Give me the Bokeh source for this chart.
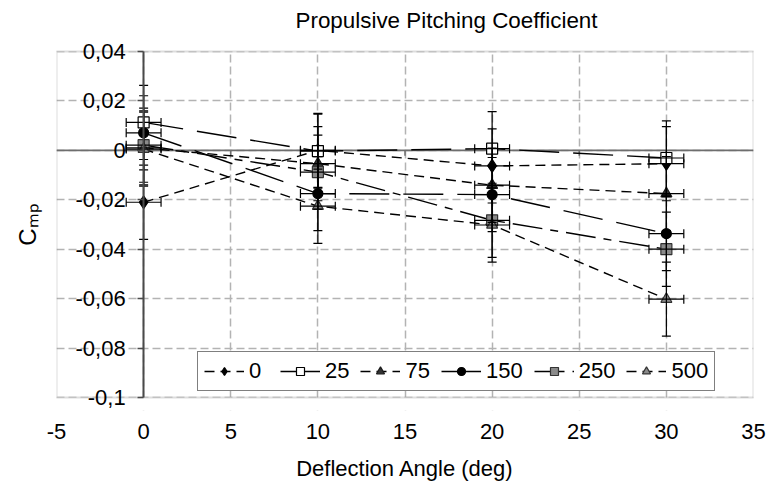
from bokeh.embed import file_html
from bokeh.models import (BoxAnnotation, ColumnDataSource, FixedTicker, LinearAxis, Span,
                          TeeHead, Title, Whisker)
from bokeh.plotting import figure
from bokeh.resources import INLINE

# ---- data -------------------------------------------------------------
angles = [0, 10, 20, 30]                      # deflection angle (deg)
series_names = ["0", "25", "75", "150", "250", "500"]

cmp_0 = [-0.0210, 0.0000, -0.0063, -0.0054]
cmp_25 = [0.0113, -0.0003, 0.0007, -0.0031]
cmp_75 = [0.0010, -0.0054, -0.0141, -0.0175]
cmp_150 = [0.0071, -0.0175, -0.0179, -0.0337]
cmp_250 = [0.0021, -0.0088, -0.0283, -0.0400]
cmp_500 = [0.0005, -0.0226, -0.0302, -0.0602]

cmp_err = [0.015, 0.015, 0.015, 0.015]         # +/- uncertainty on Cmp
angle_err = [1.0, 1.0, 1.0, 1.0]               # +/- uncertainty on angle (deg)

x_ticks = [-5, 0, 5, 10, 15, 20, 25, 30, 35]
x_tick_labels = ["-5", "0", "5", "10", "15", "20", "25", "30", "35"]
y_ticks = [0.04, 0.02, 0.0, -0.02, -0.04, -0.06, -0.08, -0.1]
y_tick_labels = ["0,04", "0,02", "0", "-0,02", "-0,04", "-0,06", "-0,08", "-0,1"]

series_values = [cmp_0, cmp_25, cmp_75, cmp_150, cmp_250, cmp_500]

# ---- styles -----------------------------------------------------------
FONT = "Liberation Sans"
SHORT = "10 6"
LONG = "40 14"
LONG_DOT = "30 8 8 8"
styles = [
    dict(marker="diamond", fill="black", line="black", size=13, dash=SHORT),
    dict(marker="square", fill="white", line="black", size=11, dash=LONG),
    dict(marker="triangle", fill="#333333", line="#1a1a1a", size=11, dash=SHORT),
    dict(marker="circle", fill="black", line="black", size=10, dash=LONG),
    dict(marker="square", fill="#8a8a8a", line="#333333", size=11, dash=LONG_DOT),
    dict(marker="triangle", fill="#8a8a8a", line="#333333", size=11, dash=SHORT),
]

X_LO, X_HI = -5, 35
Y_LO, Y_HI = -0.1, 0.04

# The plot area spans 346 px vertically; the drawing frame is padded by 13 px
# above and below so the end labels of the value axis are not cut off.
PLOT_H_PX = 346
PAD_PX = 13
pad = (Y_HI - Y_LO) * PAD_PX / PLOT_H_PX

p = figure(
    width=769, height=490,
    x_range=(X_LO, X_HI), y_range=(Y_LO - pad, Y_HI + pad),
    y_axis_location=None,
    output_backend="svg", toolbar_location=None,
    min_border_left=56, min_border_right=16,
    min_border_top=51 - PAD_PX, min_border_bottom=93 - PAD_PX,
    background_fill_color="white", border_fill_color="white",
)
p.outline_line_color = None

# grid
for g in (p.xgrid, p.ygrid):
    g.grid_line_color = "#b3b3b3"
    g.grid_line_dash = "8 4"
    g.grid_line_width = 1.5
p.xgrid.ticker = FixedTicker(ticks=x_ticks)
p.ygrid.ticker = FixedTicker(ticks=y_ticks)

# blank out the padding strips, then draw the plot-area border
p.add_layout(BoxAnnotation(bottom=Y_HI, fill_color="white", fill_alpha=1,
                           line_color=None, level="underlay"))
p.add_layout(BoxAnnotation(top=Y_LO, fill_color="white", fill_alpha=1,
                           line_color=None, level="underlay"))
p.add_layout(BoxAnnotation(left=X_LO, right=X_HI, bottom=Y_LO, top=Y_HI,
                           fill_alpha=0, line_color="#8f8f8f", line_width=2,
                           level="underlay"))

# title
p.title.text = "Propulsive Pitching Coefficient"
p.title.text_font = FONT
p.title.text_font_size = "22.4px"
p.title.text_font_style = "normal"
p.title.text_color = "black"
p.title.align = "left"
p.title.offset = 239
p.title.vertical_align = "top"
p.title.standoff = 8

# bottom axis: labels only
xa = p.xaxis[0]
xa.ticker = FixedTicker(ticks=x_ticks)
xa.major_label_overrides = {t: s for t, s in zip(x_ticks, x_tick_labels)}
xa.axis_line_color = None
xa.major_tick_line_color = None
xa.minor_tick_line_color = None
xa.major_label_text_font = FONT
xa.major_label_text_font_size = "22px"
xa.major_label_text_color = "black"
xa.major_label_standoff = 20 - PAD_PX
xa.axis_label = "Deflection Angle (deg)"
xa.axis_label_text_font = FONT
xa.axis_label_text_font_size = "22px"
xa.axis_label_text_font_style = "normal"
xa.axis_label_text_color = "black"
xa.axis_label_standoff = 14

# value axis crossing the horizontal axis at x = 0
ya = LinearAxis(
    fixed_location=0,
    bounds=(Y_LO, Y_HI),
    ticker=FixedTicker(ticks=y_ticks),
    major_label_overrides={t: s for t, s in zip(y_ticks, y_tick_labels)},
    axis_line_color="#4a4a4a", axis_line_width=2,
    major_tick_line_color="#4a4a4a", major_tick_line_width=1.5,
    major_tick_in=0, major_tick_out=6,
    minor_tick_line_color=None,
    major_label_standoff=12,
    major_label_text_font=FONT, major_label_text_font_size="22px",
    major_label_text_color="black",
)
p.add_layout(ya, "left")

# y axis title (C with subscript mp)
p.add_layout(Title(text="C\u2098\u209a", align="center", text_font=FONT,
                   text_font_size="24px", text_font_style="normal",
                   text_color="black", vertical_align="top", standoff=27), "left")

# horizontal axis line at y = 0 with its ticks
p.add_layout(Span(location=0, dimension="width", line_color="#6e6e6e",
                  line_width=1.6, level="underlay"))
inner_x = x_ticks[1:-1]
p.segment(x0=inner_x, x1=inner_x, y0=[0] * len(inner_x), y1=[-0.0022] * len(inner_x),
          line_color="#6e6e6e", line_width=1.5)

sources = []
for vals in series_values:
    sources.append(ColumnDataSource(dict(
        x=angles, y=vals,
        x_lo=[a - e for a, e in zip(angles, angle_err)],
        x_hi=[a + e for a, e in zip(angles, angle_err)],
        y_lo=[v - e for v, e in zip(vals, cmp_err)],
        y_hi=[v + e for v, e in zip(vals, cmp_err)],
    )))

# connecting lines
for name, src, st in zip(series_names, sources, styles):
    p.line("x", "y", source=src, line_color="black", line_width=1.4,
           line_dash=st["dash"], legend_label=name)

# error bars
for src in sources:
    for dim, base, lo, hi in (("height", "x", "y_lo", "y_hi"), ("width", "y", "x_lo", "x_hi")):
        w = Whisker(source=src, base=base, lower=lo, upper=hi, dimension=dim,
                    line_color="black", line_width=1.2, level="glyph",
                    lower_head=TeeHead(size=9, line_color="black", line_width=1.2),
                    upper_head=TeeHead(size=9, line_color="black", line_width=1.2))
        p.add_layout(w)

# markers
for name, src, st in zip(series_names, sources, styles):
    p.scatter("x", "y", source=src, marker=st["marker"], size=st["size"],
              fill_color=st["fill"], line_color=st["line"], line_width=1.2,
              legend_label=name)

lg = p.legend[0]
lg.orientation = "horizontal"
lg.location = (141, 6 + PAD_PX)
lg.label_text_font = FONT
lg.label_text_font_size = "22px"
lg.label_text_color = "black"
lg.glyph_width = 40
lg.glyph_height = 20
lg.label_standoff = 5
lg.spacing = 11
lg.padding = 6
lg.margin = 0
lg.border_line_color = "black"
lg.border_line_width = 1.2
lg.background_fill_alpha = 1

open("out.html", "w").write(file_html(p, INLINE))
